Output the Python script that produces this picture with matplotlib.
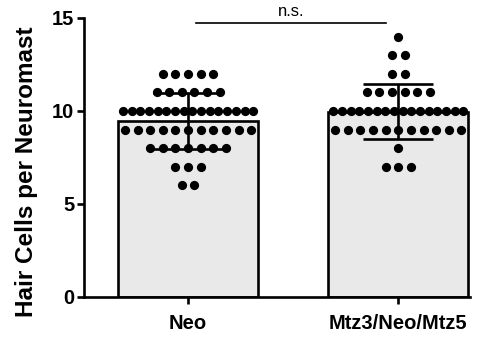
import numpy as np
import matplotlib
matplotlib.use("Agg")
import matplotlib.pyplot as plt

plt.rcParams['font.family'] = ['Liberation Sans', 'DejaVu Sans']

GROUPS = ["Neo", "Mtz3/Neo/Mtz5"]
# hair cell counts per neuromast: value -> number of neuromasts
NEO_VALUES = [12, 11, 10, 9, 8, 7, 6]
NEO_COUNTS = [5, 6, 16, 11, 7, 3, 2]
MTZ_VALUES = [14, 13, 12, 11, 10, 9, 8, 7]
MTZ_COUNTS = [1, 2, 2, 6, 16, 11, 1, 3]
YTICKS = [0, 5, 10, 15]


def expand(values, counts):
    return np.repeat(np.array(values, float), counts)


def swarm_x(center, values, counts, step=0.06, max_span=0.62):
    xs, ys = [], []
    for v, n in zip(values, counts):
        if n > 1:
            s = min(step, max_span / (n - 1))
        else:
            s = 0
        off = (np.arange(n) - (n - 1) / 2) * s
        xs.extend(center + off)
        ys.extend([v] * n)
    return np.array(xs), np.array(ys)


data = [(NEO_VALUES, NEO_COUNTS), (MTZ_VALUES, MTZ_COUNTS)]

fig = plt.figure(figsize=(4.94, 3.37), dpi=100)
ax = fig.add_axes([0.170, 0.1187, 0.781, 0.828])

lw = 1.9
for i, (vals, cnts) in enumerate(data):
    arr = expand(vals, cnts)
    m, sd = arr.mean(), arr.std(ddof=1)
    ax.bar(i, m, width=0.667, color="#e9e9e9", edgecolor="black",
           linewidth=lw, zorder=1)
    x, y = swarm_x(i, vals, cnts)
    ax.scatter(x, y, s=44, color="black", zorder=3, linewidths=0,
               clip_on=False)
    ax.errorbar(i, m, yerr=sd, fmt="none", ecolor="black", elinewidth=lw,
                capsize=25, capthick=lw, zorder=4)

ax.set_xlim(-0.495, 1.34)
ax.set_ylim(0, 15)
ax.set_yticks(YTICKS)
ax.set_xticks([0, 1])
ax.set_xticklabels(GROUPS)
for lab in ax.get_xticklabels() + ax.get_yticklabels():
    lab.set_fontweight("bold")
    lab.set_fontsize(14.5)
ax.tick_params(axis="both", width=lw, length=5, pad=2)
ax.tick_params(axis="x", pad=7)
for sp in ["top", "right"]:
    ax.spines[sp].set_visible(False)
for sp in ["left", "bottom"]:
    ax.spines[sp].set_linewidth(lw)
ax.set_ylabel("Hair Cells per Neuromast", fontsize=17.5, fontweight="bold")
ax.yaxis.set_label_coords(-0.12, 0.45)

# significance line
ax.plot([0.04, 0.94], [14.73, 14.73], color="black", lw=1.2, clip_on=False)
ax.text(0.49, 14.95, "n.s.", ha="center", va="bottom", fontsize=12)

fig.savefig("out.png", dpi=100)
